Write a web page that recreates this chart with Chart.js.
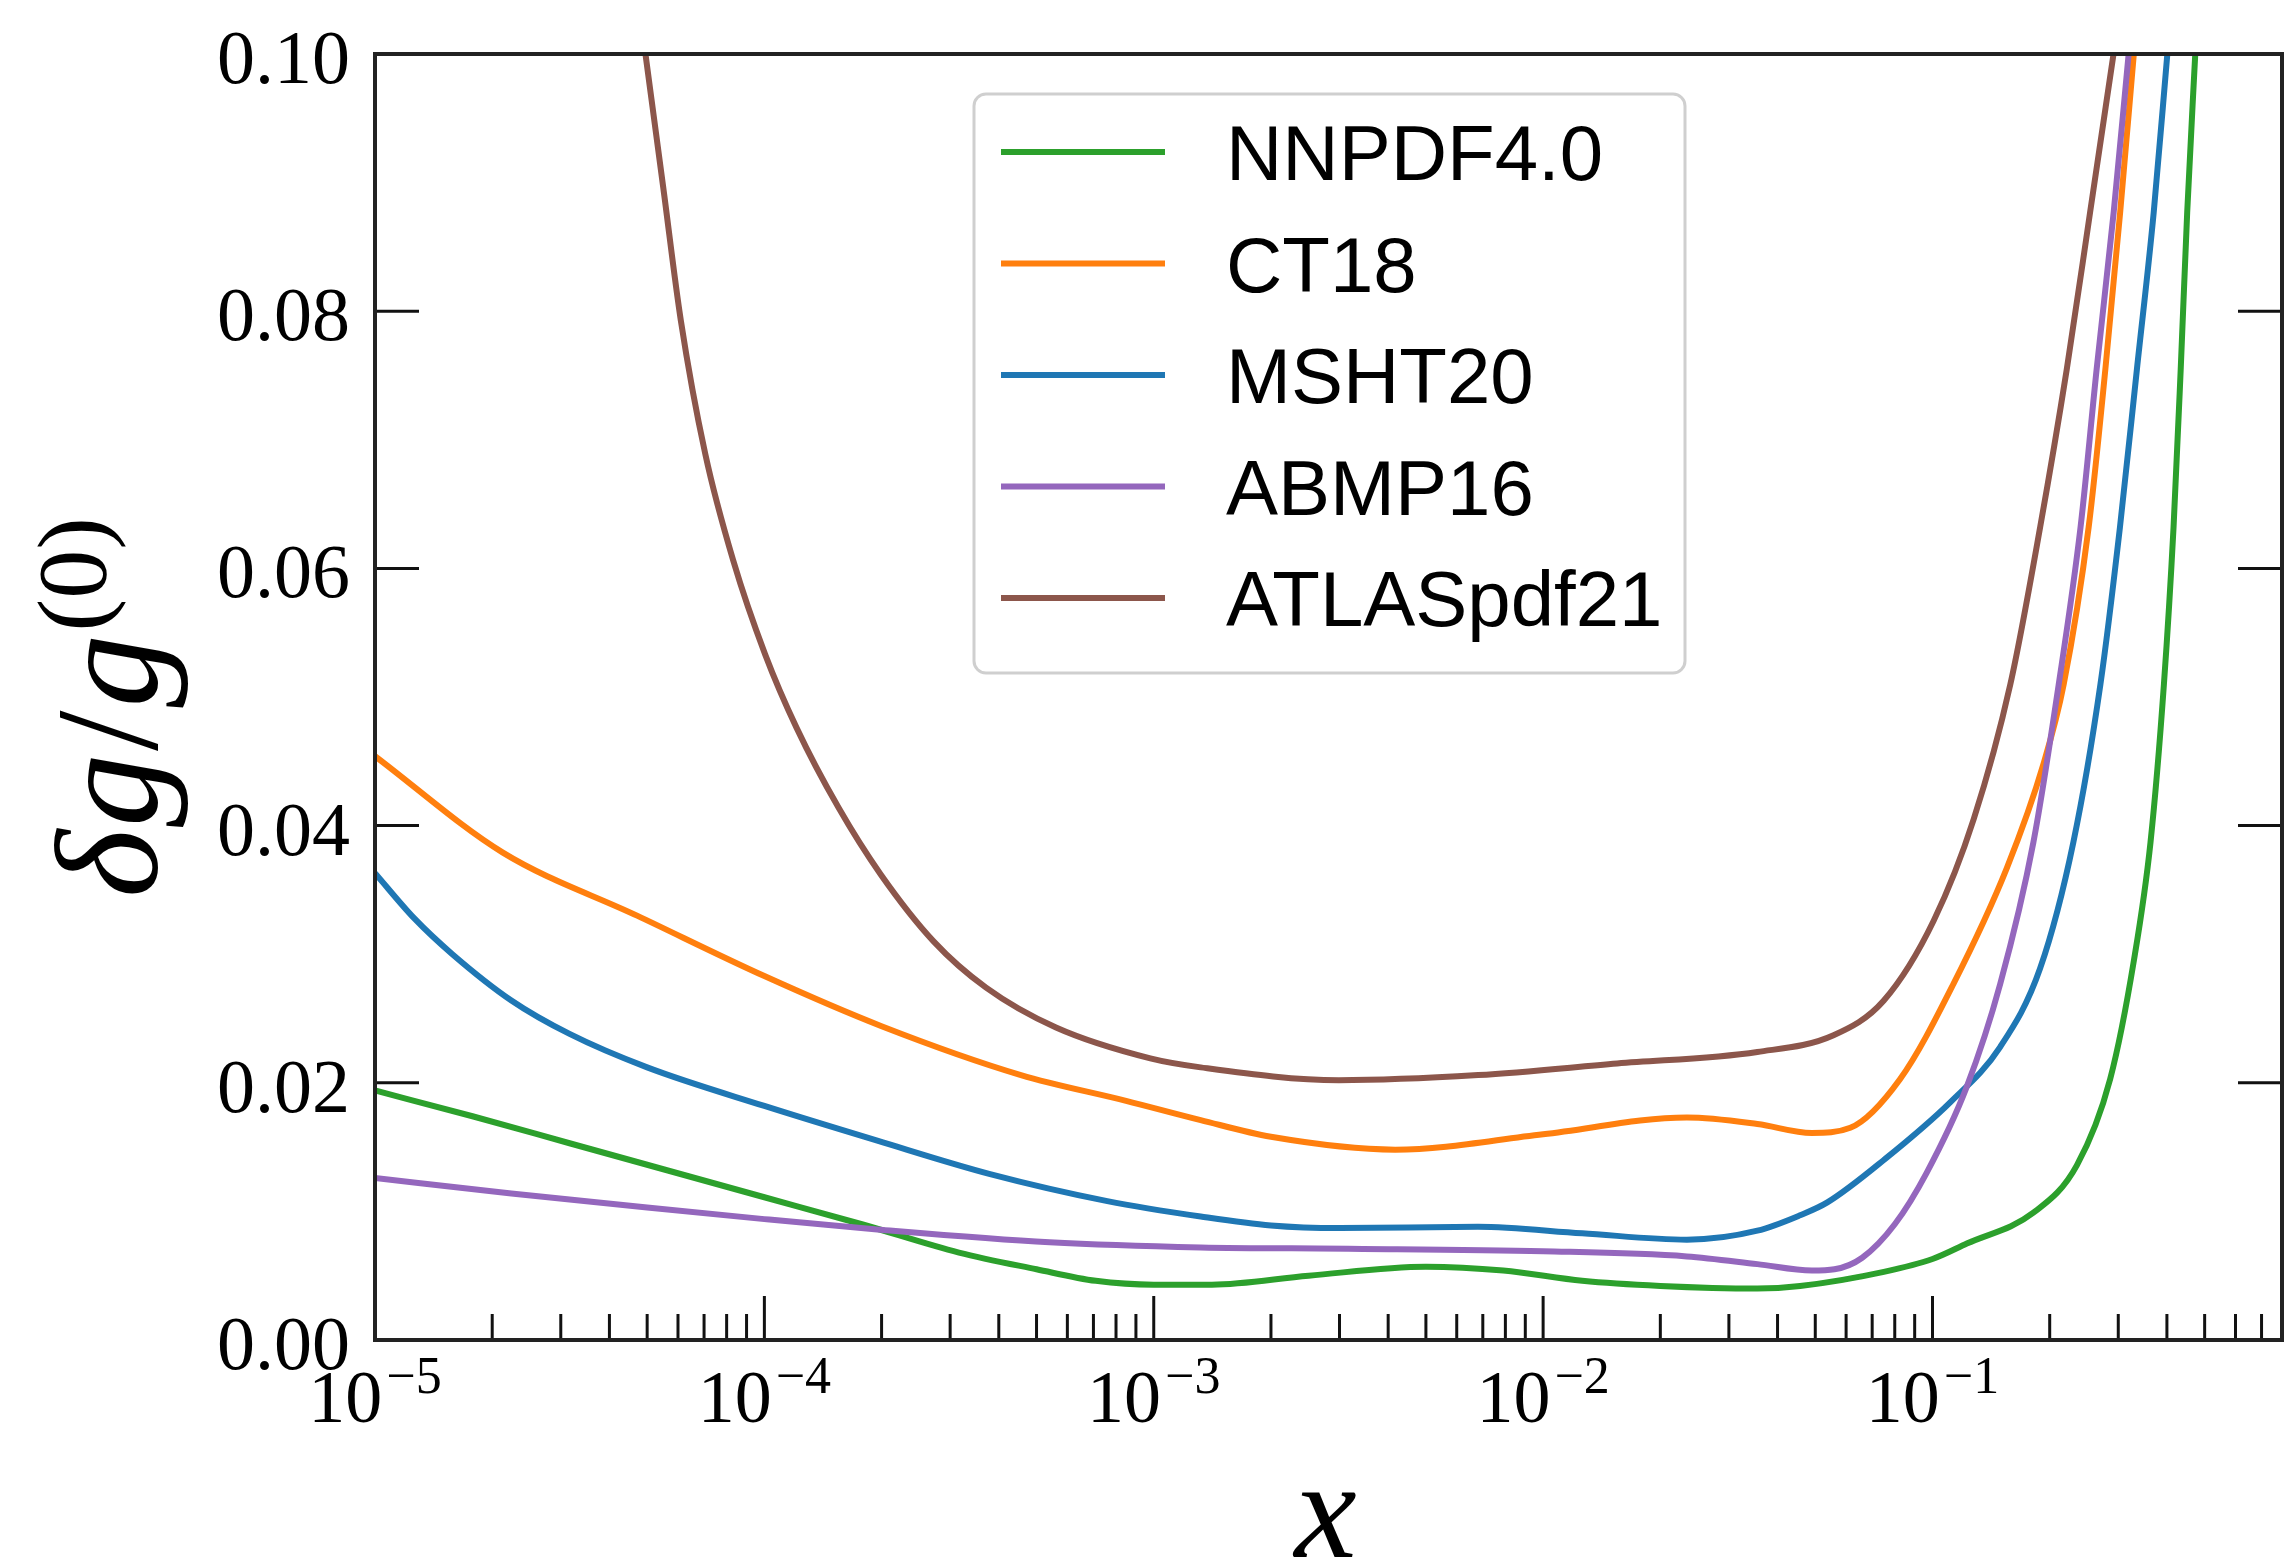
<!DOCTYPE html>
<html>
<head>
<meta charset="utf-8">
<title>Gluon PDF relative uncertainty</title>
<script src="https://cdn.jsdelivr.net/npm/chart.js@4.4.1/dist/chart.umd.min.js"></script>
<style>
  html, body { margin: 0; padding: 0; background: #fff; }
  canvas { display: block; }
</style>
</head>
<body>
<canvas id="gluonChart" width="2291" height="1565" style="width:2291px;height:1565px"></canvas>
<script>
// series: x values and delta g / g(0)
const seriesNames = ['NNPDF4.0', 'CT18', 'MSHT20', 'ABMP16', 'ATLASpdf21'];
const seriesColors = ['#2ca02c', '#ff7f0e', '#1f77b4', '#9467bd', '#8c564b'];

const nnpdfX = [1.0e-5, 1.78e-5, 3.16e-5, 5.62e-5, 1.0e-4, 1.78e-4, 3.16e-4, 5.0e-4, 7.1e-4, 1.0e-3,
  1.41e-3, 2.5e-3, 5.0e-3, 7.9e-3, 1.26e-2, 2.0e-2, 3.55e-2, 4.57e-2, 7.5e-2, 0.1,
  0.1225, 0.1816, 0.235, 0.286, 0.329, 0.363, 0.393, 0.416, 0.434, 0.451, 0.473];
const nnpdfY = [0.0194, 0.0174, 0.0153, 0.0132, 0.0111, 0.0090, 0.0068, 0.0055, 0.0046, 0.0043,
  0.0043, 0.0050, 0.0057, 0.0054, 0.0046, 0.0042, 0.0040, 0.0042, 0.0053, 0.0063,
  0.0075, 0.0099, 0.0136, 0.0203, 0.0295, 0.0387, 0.0510, 0.0632, 0.0755, 0.0877, 0.1000];

const ct18X = [1.0e-5, 2.13e-5, 4.71e-5, 1.0e-4, 2.0e-4, 4.56e-4, 8.49e-4, 1.32e-3, 2.0e-3, 4.17e-3,
  1.0e-2, 2.34e-2, 3.55e-2, 4.9e-2, 6.15e-2, 8.26e-2, 0.1132, 0.1552, 0.1928, 0.2173,
  0.2518, 0.278, 0.3034, 0.3289];
const ct18Y = [0.0454, 0.0379, 0.0330, 0.0283, 0.0244, 0.0206, 0.0186, 0.0171, 0.0158, 0.0148,
  0.0160, 0.0173, 0.0168, 0.0161, 0.0165, 0.0203, 0.0277, 0.0367, 0.0448, 0.0510,
  0.0632, 0.0755, 0.0877, 0.1000];

const mshtX = [1.0e-5, 1.26e-5, 1.58e-5, 2.24e-5, 3.16e-5, 5.0e-5, 1.0e-4, 1.95e-4, 3.8e-4, 7.6e-4,
  1.32e-3, 2.0e-3, 3.0e-3, 6.8e-3, 1.26e-2, 2.34e-2, 3.55e-2, 4.57e-2, 5.37e-2, 7.5e-2,
  0.1112, 0.1493, 0.189, 0.230, 0.270, 0.303, 0.335, 0.370, 0.401];
const mshtY = [0.0363, 0.0328, 0.0300, 0.0264, 0.0238, 0.0212, 0.0182, 0.0155, 0.0129, 0.0108,
  0.0096, 0.0089, 0.0087, 0.0088, 0.0083, 0.0078, 0.0085, 0.0097, 0.0107, 0.0140,
  0.0185, 0.0228, 0.0289, 0.0387, 0.0510, 0.0632, 0.0755, 0.0877, 0.1000];

const abmpX = [1.0e-5, 2.24e-5, 5.0e-5, 1.0e-4, 1.95e-4, 5.4e-4, 1.32e-3, 3.16e-3, 1.0e-2, 2.34e-2,
  3.55e-2, 4.9e-2, 5.6e-2, 6.6e-2, 8.0e-2, 9.66e-2, 0.1225, 0.1493, 0.1816, 0.211,
  0.240, 0.264, 0.292, 0.319];
const abmpY = [0.0126, 0.0114, 0.0103, 0.0094, 0.0086, 0.0076, 0.0072, 0.0071, 0.0069, 0.0065,
  0.0059, 0.0054, 0.0055, 0.0064, 0.0090, 0.0130, 0.0197, 0.0277, 0.0387, 0.0510,
  0.0632, 0.0755, 0.0877, 0.1000];

const atlasX = [4.95e-5, 5.50e-5, 6.10e-5, 7.05e-5, 8.32e-5, 1.005e-4, 1.21e-4, 1.55e-4, 1.99e-4, 2.72e-4,
  3.71e-4, 5.61e-4, 9.8e-4, 1.32e-3, 2.99e-3, 6.81e-3, 1.55e-2, 3.55e-2, 5.57e-2, 7.5e-2,
  0.1007, 0.1276, 0.1585, 0.189, 0.2213, 0.254, 0.2917];
const atlasY = [0.1000, 0.0896, 0.0793, 0.0689, 0.0606, 0.0533, 0.0476, 0.0414, 0.0362, 0.0310,
  0.0274, 0.0243, 0.0219, 0.0212, 0.0202, 0.0206, 0.0215, 0.0224, 0.0237, 0.0264,
  0.0326, 0.0405, 0.0510, 0.0632, 0.0755, 0.0877, 0.1000];

const seriesX = [nnpdfX, ct18X, mshtX, abmpX, atlasX];
const seriesY = [nnpdfY, ct18Y, mshtY, abmpY, atlasY];

const yTicks = [0, 0.02, 0.04, 0.06, 0.08, 0.10];
const xTicks = [1e-5, 1e-4, 1e-3, 1e-2, 1e-1];
const xTickExponents = ['\u22125', '\u22124', '\u22123', '\u22122', '\u22121'];
const xMin = 1e-5, xMax = 0.79;

const serif = '"Liberation Serif", "DejaVu Serif", serif';
const sans = '"Liberation Sans", Arial, sans-serif';

function seg(ctx, x1, y1, x2, y2) {
  ctx.beginPath(); ctx.moveTo(x1, y1); ctx.lineTo(x2, y2); ctx.stroke();
}

// matplotlib-like frame: inward ticks, math labels, boxed legend
const frame = {
  id: 'frame',
  afterDraw(chart) {
    const { ctx, chartArea: a, scales: { x, y } } = chart;
    ctx.save();
    ctx.strokeStyle = '#111';
    ctx.lineWidth = 3;
    yTicks.forEach(v => {
      const py = y.getPixelForValue(v);
      seg(ctx, a.left, py, a.left + 44, py);
      seg(ctx, a.right - 44, py, a.right, py);
    });
    xTicks.forEach(d => {
      const px = x.getPixelForValue(d);
      seg(ctx, px, a.bottom, px, a.bottom - 44);
      for (let m = 2; m <= 9; m++) {
        if (m * d >= xMax) break;
        const pm = x.getPixelForValue(m * d);
        seg(ctx, pm, a.bottom, pm, a.bottom - 26);
      }
    });
    ctx.lineWidth = 4;
    ctx.strokeStyle = '#222';
    ctx.strokeRect(a.left, a.top, a.right - a.left, a.bottom - a.top);

    // tick labels
    ctx.fillStyle = '#000';
    ctx.font = '76px ' + serif;
    ctx.textAlign = 'right';
    ctx.textBaseline = 'alphabetic';
    yTicks.forEach(v => {
      ctx.fillText(v.toFixed(2), a.left - 25, y.getPixelForValue(v) + 29);
    });
    ctx.textAlign = 'left';
    xTicks.forEach((d, i) => {
      const px = x.getPixelForValue(d);
      ctx.font = '74px ' + serif;
      const w1 = ctx.measureText('10').width;
      ctx.font = '52px ' + serif;
      const w2 = ctx.measureText(xTickExponents[i]).width;
      const left = px - (w1 + w2 + 4) / 2;
      ctx.font = '74px ' + serif;
      ctx.fillText('10', left, a.bottom + 82);
      ctx.font = '52px ' + serif;
      ctx.fillText(xTickExponents[i], left + w1 + 4, a.bottom + 53);
    });

    // axis titles
    ctx.font = 'italic 140px ' + serif;
    ctx.textAlign = 'center';
    ctx.fillText('x', (a.left + a.right) / 2 - 3, 1557);

    const parts = [
      ['\u03b4', 'italic 146px ' + serif, 0],
      ['g', 'italic 146px ' + serif, 0],
      ['/', '146px ' + serif, 0],
      ['g', 'italic 146px ' + serif, 0],
      ['(0)', '98px ' + serif, 52]
    ];
    ctx.textAlign = 'left';
    let total = 0;
    parts.forEach(p => { ctx.font = p[1]; total += ctx.measureText(p[0]).width + 3; });
    ctx.save();
    ctx.translate(157, 706);
    ctx.rotate(-Math.PI / 2);
    let cx = -total / 2;
    parts.forEach(p => {
      ctx.font = p[1];
      ctx.fillText(p[0], cx, -p[2]);
      cx += ctx.measureText(p[0]).width + 3;
    });
    ctx.restore();

    // legend
    const lx = 974, ly = 94, lw = 711, lh = 579;
    ctx.fillStyle = 'rgba(255,255,255,0.85)';
    ctx.strokeStyle = '#cfcfcf';
    ctx.lineWidth = 3;
    ctx.beginPath();
    ctx.roundRect(lx, ly, lw, lh, 12);
    ctx.fill();
    ctx.stroke();
    ctx.font = '78px ' + sans;
    ctx.textAlign = 'left';
    ctx.fillStyle = '#000';
    chart.data.datasets.forEach((ds, i) => {
      const ry = 152 + i * 111.5;
      ctx.strokeStyle = ds.borderColor;
      ctx.lineWidth = ds.borderWidth;
      seg(ctx, 1001, ry, 1165, ry);
      ctx.fillText(ds.label, 1226, ry + 28);
    });
    ctx.restore();
  }
};

new Chart(document.getElementById('gluonChart'), {
  type: 'line',
  data: {
    datasets: seriesNames.map((name, i) => ({
      label: name,
      data: seriesX[i].map((xv, j) => ({ x: xv, y: seriesY[i][j] })),
      borderColor: seriesColors[i],
      borderWidth: 6,
      pointRadius: 0,
      fill: false,
      cubicInterpolationMode: 'monotone',
      clip: 0,
      order: seriesNames.length - i
    }))
  },
  options: {
    responsive: false,
    animation: false,
    events: [],
    layout: { padding: { top: 54, right: 9, left: 0, bottom: 0 } },
    plugins: { legend: { display: false }, tooltip: { enabled: false } },
    scales: {
      x: {
        type: 'logarithmic', min: xMin, max: xMax,
        grid: { display: false }, border: { display: false }, ticks: { display: false },
        afterFit(s) { s.height = 225; }
      },
      y: {
        type: 'linear', min: 0, max: 0.1,
        grid: { display: false }, border: { display: false }, ticks: { display: false },
        afterFit(s) { s.width = 375; }
      }
    }
  },
  plugins: [frame]
});
</script>
</body>
</html>
